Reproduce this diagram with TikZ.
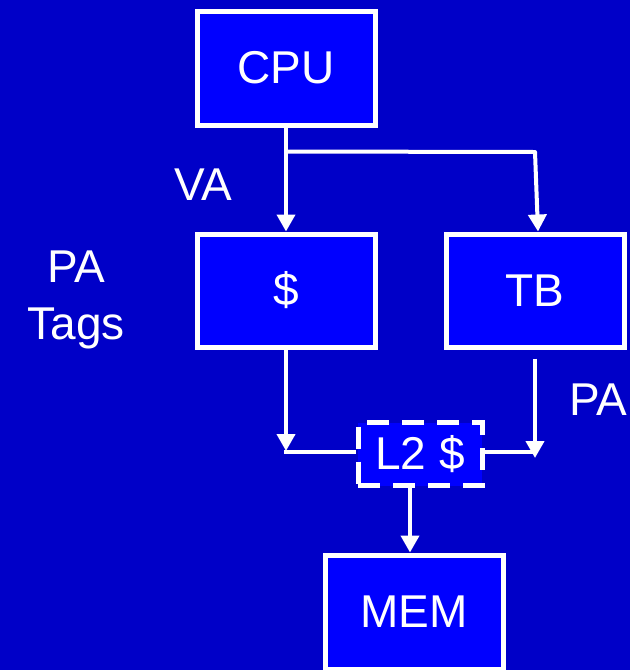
\documentclass[tikz,border=0pt]{standalone}
\usepackage{fontspec}
\setmainfont{Liberation Sans}
\usetikzlibrary{arrows.meta, positioning}
\definecolor{colBack}{RGB}{0,0,200}
\definecolor{colBox} {RGB}{0,0,255}
\tikzset{
  base/.style   = {draw=white, line width=5pt, fill=colBox, text=white,
                   minimum width=178pt, minimum height=114pt, inner sep=0pt,
                   font=\fontsize{46}{55}\selectfont},
  unit/.style   = {base},
  cachebox/.style = {base, minimum width=124pt, minimum height=63pt,
                   dash pattern=on 22pt off 13pt},
  lbl/.style    = {text=white, inner sep=0pt, align=center,
                   font=\fontsize{46}{57}\selectfont},
  wire/.style   = {draw=white, line width=4pt},
  arr/.style    = {wire, -{Triangle[length=17pt, width=18pt]}},
}
\begin{document}
\begin{tikzpicture}[x=1pt, y=-1pt]

%% ── background ──────────────────────────────────────────────────────────────
\fill[colBack] (0,0) rectangle (630,670);
\useasboundingbox (0,0) rectangle (630,670);
\clip (0,0) rectangle (630,670);

%% ── units ───────────────────────────────────────────────────────────────────
\node[unit] (cpu) at (286,68) {CPU};
\node[unit, below=104pt of cpu, minimum height=113pt] (cache) {\$};
\node[unit, right=66pt of cache, minimum height=113pt] (tb) {TB};
\node[cachebox] (ltwo) at (420,454) {L2 \$};
\node[unit] (mem) at (414,612) {MEM};

%% ── labels ──────────────────────────────────────────────────────────────────
\node[lbl, anchor=base] (va) at (203,200) {VA};
\node[lbl] (patags) at (76,300) {PA\\Tags};
\node[lbl, anchor=base west] (pa) at (569,415) {PA};

%% ── junctions ───────────────────────────────────────────────────────────────
\coordinate (split)  at ([yshift=-24pt]cpu.south);
\coordinate (corner) at (535,152);
\coordinate (tbin)   at ([xshift=3pt]tb.north);
\coordinate (leftj)  at (cache.south |- 0,451);
\coordinate (leftl)  at ([xshift=-2pt]cache.south |- 0,452);
\coordinate (tbout)  at ([yshift=-9pt]tb.south);
\coordinate (rightj) at (tb.south |- 0,458);
\coordinate (rightl) at ([xshift=2pt]tb.south |- 0,452);
\coordinate (memin)  at ([xshift=-4pt]mem.north);

%% ── arrows ──────────────────────────────────────────────────────────────────
\draw[arr] (cpu.south) -- (cpu.south |- cache.north);
\draw[wire, line cap=round, line join=round] (split) -- (corner);
\draw[arr] (corner) -- (tbin);
\draw[arr] (cache) -- (leftj);
\draw[wire] (leftl) -- (leftl -| ltwo.west);
\draw[arr] (tbout) -- (rightj);
\draw[wire] (rightl -| ltwo.east) -- (rightl);
\draw[arr] (memin |- ltwo.south) -- (memin);

\end{tikzpicture}
\end{document}
